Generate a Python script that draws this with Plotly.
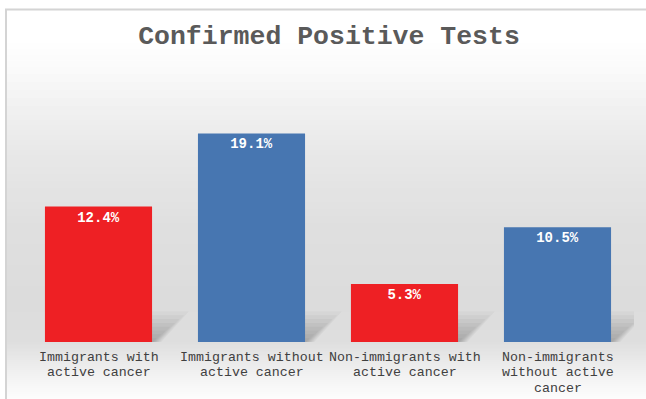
import plotly.graph_objects as go

categories = [
    "Immigrants with<br>active cancer",
    "Immigrants without<br>active cancer",
    "Non-immigrants with<br>active cancer",
    "Non-immigrants<br>without active<br>cancer",
]
values = [12.4, 19.1, 5.3, 10.5]
bar_colors = ["#ee2024", "#4776b1", "#ee2024", "#4776b1"]
title_text = "Confirmed Positive Tests"

MONO = "Courier New, Liberation Mono, monospace"
W, H = 646, 399
L, R, T, B = 22, 12, 69, 57
YMAX = 25.0
pw, ph = W - L - R, H - T - B

def py(ypix):
    return (H - B - ypix) / ph

def px(xpix):
    return (xpix - L) / pw

shapes = []
# background gradient (paper-ref strips, overlapping to avoid seams)
stops = [(40, 255), (70, 250), (110, 240), (160, 231), (230, 223), (300, 220), (342, 222), (360, 233), (380, 245), (400, 253)]
for i in range(len(stops) - 1):
    y0, c0 = stops[i]
    y1, c1 = stops[i + 1]
    n = 10
    for k in range(n):
        ya = y0 + (y1 - y0) * k / n
        yb = y0 + (y1 - y0) * (k + 1) / n + 1.5
        c = int(round(c0 + (c1 - c0) * (k + 0.5) / n))
        shapes.append(dict(type="rect", xref="paper", yref="paper",
                           x0=px(6), x1=px(W + 5), y0=py(yb), y1=py(ya),
                           fillcolor=f"rgb({c},{c},{c})", line=dict(width=0), layer="below"))

# soft bar shadows
bw = 0.7
for i, v in enumerate(values):
    xr = i + bw / 2
    n = 8
    for k in range(n):
        s = 1.0 - k / n
        hgt = min(v, 2.8) * s
        shapes.append(dict(type="path", xref="x", yref="y",
                           path=f"M {xr-0.05} 0 L {xr+0.06*s} 0 L {xr+0.24*s} {hgt} L {xr-0.05} {hgt} Z",
                           fillcolor="rgba(0,0,0,0.03)", line=dict(width=0), layer="below"))

# outer chart border
shapes.append(dict(type="path", xref="paper", yref="paper",
                   path=f"M {px(6)} {py(H+10)} L {px(6)} {py(9.5)} L {px(W+10)} {py(9.5)}",
                   line=dict(color="#d4d4d4", width=2), layer="above"))

# category labels (one annotation per line for tight line spacing)
annotations = []
for cat in categories:
    for j, line in enumerate(cat.split("<br>")):
        annotations.append(dict(x=cat, y=py(357 + 15.5 * j), xref="x", yref="paper",
                                text=line, showarrow=False, xanchor="center", yanchor="middle",
                                font=dict(family=MONO, size=13.3, color="#404040")))

fig = go.Figure(go.Bar(
    x=categories, y=values,
    marker=dict(color=bar_colors, line=dict(width=0)),
    width=bw,
    texttemplate="<b>%{y:.1f}%</b>",
    textposition="inside", insidetextanchor="end",
    textfont=dict(family=MONO, size=14, color="white"),
    hoverinfo="skip",
))

fig.update_layout(
    width=W, height=H,
    margin=dict(l=L, r=R, t=T, b=B, pad=0, autoexpand=False),
    paper_bgcolor="white", plot_bgcolor="rgba(0,0,0,0)",
    title=dict(text=f"<b>{title_text}</b>", x=px(329), xref="paper", xanchor="center",
               y=1 - 35 / H, yref="container", yanchor="middle",
               font=dict(family=MONO, size=26.5, color="#5a5a5a")),
    xaxis=dict(range=[-0.5, len(categories) - 0.5], showgrid=False, showline=False,
               zeroline=False, automargin=False, showticklabels=False, ticks=""),
    yaxis=dict(range=[0, YMAX], visible=False, showgrid=False, zeroline=False, automargin=False),
    shapes=shapes,
    annotations=annotations,
    showlegend=False,
    uniformtext=dict(mode=False),
)

fig.write_html("out.html", config={"displayModeBar": False},
               post_script="document.body.style.margin='0';document.body.style.overflow='hidden';")
